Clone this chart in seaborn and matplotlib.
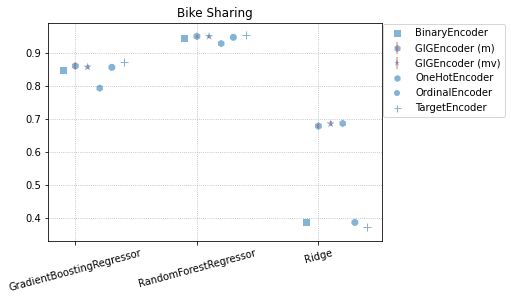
import numpy as np
import pandas as pd
import matplotlib
matplotlib.use("Agg")
import matplotlib.pyplot as plt
import seaborn as sns
from matplotlib.lines import Line2D
from matplotlib.legend_handler import HandlerTuple

# data
models = ["GradientBoostingRegressor", "RandomForestRegressor", "Ridge"]
encoders = ["BinaryEncoder", "GIGEncoder (m)", "GIGEncoder (mv)",
            "OneHotEncoder", "OrdinalEncoder", "TargetEncoder"]
binary = [0.848, 0.945, 0.387]
gig_m = [0.861, 0.951, 0.679]
gig_mv = [0.858, 0.951, 0.686]
onehot = [0.794, 0.929, 0.687]
ordinal = [0.857, 0.948, 0.387]
target = [0.872, 0.954, 0.372]
gig_m_err = [0.008, 0.004, 0.006]
gig_mv_err = [0.007, 0.004, 0.008]

scores = [binary, gig_m, gig_mv, onehot, ordinal, target]
errors = {"GIGEncoder (m)": gig_m_err, "GIGEncoder (mv)": gig_mv_err}

markers = {"BinaryEncoder": "s", "GIGEncoder (m)": "h", "GIGEncoder (mv)": "*",
           "OneHotEncoder": "h", "OrdinalEncoder": "8", "TargetEncoder": "+"}
sizes = {"BinaryEncoder": 50, "GIGEncoder (m)": 60, "GIGEncoder (mv)": 75,
         "OneHotEncoder": 55, "OrdinalEncoder": 55, "TargetEncoder": 70}

rows = []
for i, enc in enumerate(encoders):
    for j, m in enumerate(models):
        rows.append({"model": m, "encoder": enc, "score": scores[i][j],
                     "pos": j + 0.1 * (i - 1)})
df = pd.DataFrame(rows)

sns.set_style("ticks")
plt.rcParams["font.family"] = ["DejaVu Sans"]
plt.rcParams["text.color"] = "black"

blue = "#1f77b4"
red = "#d62728"

fig, ax = plt.subplots(figsize=(511 / 72, 300 / 72), dpi=72)

for enc in encoders:
    sub = df[df["encoder"] == enc]
    plus = enc == "TargetEncoder"
    sns.scatterplot(data=sub, x="pos", y="score", marker=markers[enc],
                    s=sizes[enc], color=blue, alpha=0.55,
                    linewidth=1.0 if plus else 0,
                    edgecolor=blue if plus else "none",
                    ax=ax, legend=False, zorder=3)
    if enc in errors:
        ax.errorbar(sub["pos"], sub["score"], yerr=errors[enc], fmt="none",
                    ecolor=red, alpha=0.45, elinewidth=1.5, zorder=4)

ax.set_xticks(range(len(models)))
ax.set_xticklabels(models, rotation=15, ha="center")
ax.set_xlim(-0.225, 2.525)
ax.set_ylim(0.331, 0.991)
ax.set_xlabel("")
ax.set_ylabel("")
ax.set_title("Bike Sharing", fontsize=12, color="black")
ax.grid(True, linestyle=":", color="#b0b0b0", linewidth=0.8)
for s in ax.spines.values():
    s.set_color("black")
ax.tick_params(labelsize=10, colors="black")

handles = []
for enc in encoders:
    plus = enc == "TargetEncoder"
    mk = Line2D([], [], linestyle="none", marker=markers[enc], color=blue,
                alpha=0.55, markersize=7,
                markeredgewidth=1.0 if plus else 0)
    if enc in errors:
        bar = Line2D([], [], linestyle="none", marker="|", color=red,
                     alpha=0.45, markersize=12, markeredgewidth=1.5)
        handles.append((mk, bar))
    else:
        handles.append(mk)
leg = ax.legend(handles, encoders, loc="upper left", bbox_to_anchor=(1.0, 1.0),
                borderaxespad=0.1, fontsize=10, frameon=True,
                handler_map={tuple: HandlerTuple(ndivide=1, pad=0)})
for t in leg.get_texts():
    t.set_color("black")

fig.subplots_adjust(left=0.094, right=0.748, top=0.923, bottom=0.197)
fig.savefig("out.png", dpi=72)
